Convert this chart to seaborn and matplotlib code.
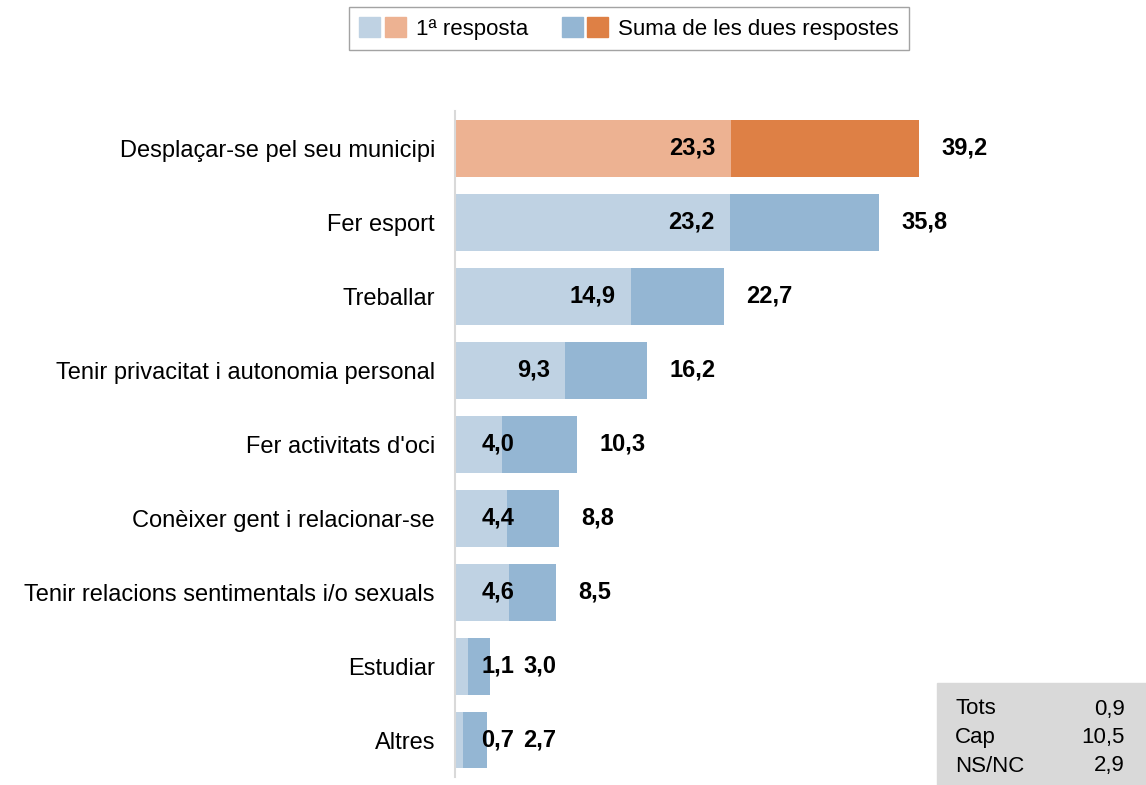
import matplotlib
matplotlib.use('Agg')
import numpy as np
import pandas as pd
import matplotlib.pyplot as plt
import seaborn as sns
from matplotlib.patches import Patch, Rectangle
from matplotlib.legend_handler import HandlerTuple

# DADES
categories = [
    'Desplaçar-se pel seu municipi',
    'Fer esport',
    'Treballar',
    'Tenir privacitat i autonomia personal',
    "Fer activitats d'oci",
    'Conèixer gent i relacionar-se',
    'Tenir relacions sentimentals i/o sexuals',
    'Estudiar',
    'Altres',
]
first_answer = [23.3, 23.2, 14.9, 9.3, 4.0, 4.4, 4.6, 1.1, 0.7]
both_answers = [39.2, 35.8, 22.7, 16.2, 10.3, 8.8, 8.5, 3.0, 2.7]

other_names = ['Tots', 'Cap', 'NS/NC']
other_values = [0.9, 10.5, 2.9]

# COLORS
BLUE_LIGHT = '#BFD2E3'
BLUE_DARK = '#94B6D3'
ORANGE_LIGHT = '#EDB292'
ORANGE_DARK = '#DE8045'


def fmt(v):
    return f'{v:.1f}'.replace('.', ',')


df = pd.DataFrame({'cat': categories, 'first': first_answer, 'total': both_answers})
light = [ORANGE_LIGHT] + [BLUE_LIGHT] * (len(df) - 1)
dark = [ORANGE_DARK] + [BLUE_DARK] * (len(df) - 1)

sns.set_style('white')
plt.rcParams['font.family'] = ['Liberation Sans', 'DejaVu Sans']
plt.rcParams['text.color'] = 'black'

fig = plt.figure(figsize=(11.46, 7.85), dpi=100)
ax = fig.add_axes([0.397, 0.0102, 0.599, 0.848])

sns.barplot(data=df, x='total', y='cat', hue='cat', palette=dark, width=0.77,
            saturation=1, legend=False, linewidth=0, ax=ax)
sns.barplot(data=df, x='first', y='cat', hue='cat', palette=light, width=0.77,
            saturation=1, legend=False, linewidth=0, ax=ax)

for i, (f, t) in enumerate(zip(first_answer, both_answers)):
    ax.text(max(f - 1.3, 5.0), i, fmt(f), ha='right', va='center',
            fontsize=17, fontweight='bold', color='black')
    ax.text(max(t + 1.9, 5.8), i, fmt(t), ha='left', va='center',
            fontsize=17, fontweight='bold', color='black')

ax.set_xlim(0, 58)
ax.set_ylim(len(df) - 0.5, -0.5)
ax.set_xlabel('')
ax.set_ylabel('')
ax.set_xticks([])
ax.tick_params(axis='y', length=0, pad=14.4, labelsize=17, labelcolor='black')
for s in ['top', 'right', 'bottom']:
    ax.spines[s].set_visible(False)
ax.spines['left'].set_color('#D9D9D9')
ax.spines['left'].set_linewidth(1.5)

# LLEGENDA
handles = [
    (Patch(color=BLUE_LIGHT), Patch(color=ORANGE_LIGHT)),
    (Patch(color=BLUE_DARK), Patch(color=ORANGE_DARK)),
]
leg = fig.legend(handles, ['1ª resposta', 'Suma de les dues respostes'],
                 handler_map={tuple: HandlerTuple(ndivide=None, pad=0.2)},
                 loc='center', bbox_to_anchor=(0.549, 0.964), ncol=2,
                 fontsize=16, handlelength=2.1, handleheight=1.05,
                 handletextpad=0.45, columnspacing=1.5, borderpad=0.45,
                 fancybox=False, frameon=True)
leg.get_frame().set_edgecolor('#8C8C8C')
leg.get_frame().set_linewidth(1)

# QUADRE ALTRES
fig.patches.append(Rectangle((937 / 1146, 0), 209 / 1146, 102 / 785,
                             transform=fig.transFigure, color='#D9D9D9', zorder=0))
for k, (name, val) in enumerate(zip(other_names, other_values)):
    y = 1 - (709 + 28.5 * k) / 785
    fig.text(955 / 1146, y, name, ha='left', va='center', fontsize=16)
    fig.text(1125 / 1146, y, fmt(val), ha='right', va='center', fontsize=16)

fig.savefig('out.png', dpi=100)
